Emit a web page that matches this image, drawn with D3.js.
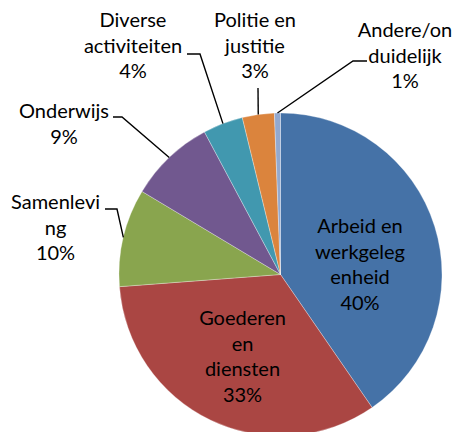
<!DOCTYPE html>
<html>
<head>
<meta charset="utf-8">
<script src="https://cdn.jsdelivr.net/npm/d3@7"></script>
<style>
  html, body { margin: 0; padding: 0; background: #fff; }
  svg text { font-family: Lato, "Open Sans", sans-serif; font-size: 20px; fill: #000; }
</style>
</head>
<body>
<svg id="chart" width="457" height="432"></svg>
<script>
// data
const categories = ["Arbeid en werkgelegenheid", "Goederen en diensten", "Samenleving",
    "Onderwijs", "Diverse activiteiten", "Politie en justitie", "Andere/onduidelijk"];
const shares = [40.4, 33.4, 9.8, 8.6, 4.0, 3.2, 0.6];
// label text as wrapped in the original
const labelLines = [["Arbeid en", "werkgeleg", "enheid"], ["Goederen", "en", "diensten"],
    ["Samenlevi", "ng"], ["Onderwijs"], ["Diverse", "activiteiten"],
    ["Politie en", "justitie"], ["Andere/on", "duidelijk"]];
const colors = ["#4572A7", "#AA4643", "#89A54E", "#71588F", "#4198AF", "#DB843D", "#93A9CF"];

// layout: label centre x, first baseline y, and the leader's elbow points
const labelPos = [
    {x: 360, y: 233, leader: null},
    {x: 242.5, y: 325, leader: null},
    {x: 55.5, y: 209, leader: [[105, 209], [117, 209]]},
    {x: 64, y: 118, leader: [[113, 117], [122, 117]]},
    {x: 133, y: 27, leader: [[187, 54], [200, 54]]},
    {x: 255, y: 27, leader: [[258, 88]]},
    {x: 405, y: 37, leader: [[367, 61], [353, 61]]}
];

const cx = 280.5, cy = 274.5, radius = 161.5, lineHeight = 25.7;

let svg = d3.select("#chart");
let main = svg.append("g")
    .attr("transform", `translate(${cx} ${cy})`);

let pie = d3.pie().sort(null).value(d => d)(shares);
let arc = d3.arc().innerRadius(0).outerRadius(radius);

main.selectAll("path.slice")
    .data(pie)
    .join("path")
    .classed("slice", true)
    .attr("d", arc)
    .attr("fill", (_, i) => colors[i])
    .attr("stroke", "#fff")
    .attr("stroke-opacity", 0.5)
    .attr("stroke-width", 0.6);

// leaders end on the outer edge at the slice's middle angle
let edge = d => {
    let a = (d.startAngle + d.endAngle) / 2;
    return [cx + radius * Math.sin(a), cy - radius * Math.cos(a)];
};

let line = d3.line();
svg.selectAll("path.leader")
    .data(pie.filter((_, i) => labelPos[i].leader))
    .join("path")
    .classed("leader", true)
    .attr("d", d => line(labelPos[d.index].leader.concat([edge(d)])))
    .attr("fill", "none")
    .attr("stroke", "#000")
    .attr("stroke-width", 1.4);

svg.selectAll("text.label")
    .data(pie)
    .join("text")
    .classed("label", true)
    .attr("text-anchor", "middle")
    .each(function (d, i) {
        let lines = labelLines[i].concat([Math.round(shares[i]) + "%"]);
        d3.select(this).selectAll("tspan")
            .data(lines)
            .join("tspan")
            .attr("x", labelPos[i].x)
            .attr("y", (_, j) => labelPos[i].y + j * lineHeight)
            .text(t => t);
    });
</script>
</body>
</html>
